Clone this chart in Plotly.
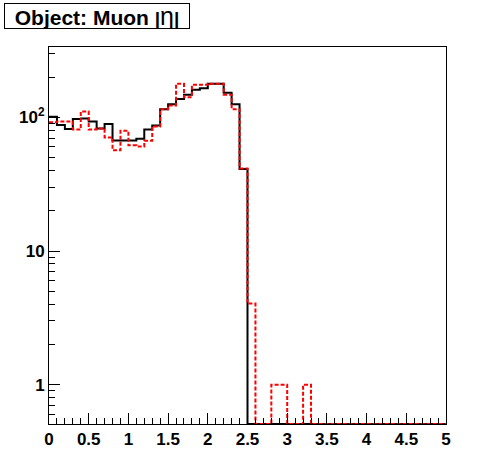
import numpy as np
import plotly.graph_objects as go

# Bin edges: 50 bins of width 0.1 from 0 to 5
bin_lo = [round(0.1 * i, 1) for i in range(50)]
x_end = 5.0

# Black (solid) histogram values
black_vals = [101, 87.5, 81.7, 97, 98, 93, 82.6, 89, 67, 67,
              67, 69, 81, 87, 115, 125, 137, 147.6, 161, 165,
              178, 178, 153, 125, 41] + [0] * 25

# Red (dashed) histogram values
red_vals = [92, 93, 93, 81, 110.7, 81, 82.6, 70.7, 56.6, 79.4,
            61.7, 60.6, 66.8, 85.5, 115, 122.8, 178, 141, 175, 175,
            178, 178, 147.6, 115, 41.5, 4.05, 0, 0, 1, 1,
            0, 0, 1] + [0] * 17

x_ticks = [0, 0.5, 1, 1.5, 2, 2.5, 3, 3.5, 4, 4.5, 5]
x_ticklabels = ["0", "0.5", "1", "1.5", "2", "2.5", "3", "3.5", "4", "4.5", "5"]
y_ticks = [1, 10, 100]
y_ticklabels = ["1", "10", "10<sup>2</sup>"]
y_minor = [0.6, 0.7, 0.8, 0.9, 2, 3, 4, 5, 6, 7, 8, 9,
           20, 30, 40, 50, 60, 70, 80, 90, 200, 300]

title_text = ("<b>Object: Muon</b> <b><span style='font-size:19px'>|</span></b>"
              "<span style='font-size:25px'>η</span>"
              "<b><span style='font-size:19px'>|</span></b>")

ylog_range = [-0.294, 2.526]
floor = 10 ** ylog_range[0]


def step(vals):
    xs = list(bin_lo) + [x_end]
    ys = [max(v, floor) for v in vals] + [max(vals[-1], floor)]
    return xs, ys


fig = go.Figure()
bx, by = step(black_vals)
fig.add_trace(go.Scatter(x=bx, y=by, mode="lines", line_shape="hv",
                         line=dict(color="black", width=2), showlegend=False,
                         hoverinfo="skip"))
rx, ry = step(red_vals)
fig.add_trace(go.Scatter(x=rx, y=ry, mode="lines", line_shape="hv",
                         line=dict(color="#ff0000", width=2, dash="4px,2px"),
                         showlegend=False, hoverinfo="skip"))

tfont = dict(family="Liberation Sans, Arial, sans-serif", size=17,
             color="black", weight="bold")

fig.update_layout(
    width=496, height=472,
    margin=dict(l=49, r=50, t=47, b=48, autoexpand=False),
    paper_bgcolor="white", plot_bgcolor="white",
    font=dict(family="Liberation Sans, Arial, sans-serif", color="black"),
    xaxis=dict(range=[0, 5], showgrid=False, zeroline=False, automargin=False,
               showline=True, linecolor="black", linewidth=1, mirror=True,
               ticks="inside", ticklen=11, tickwidth=1, tickcolor="black",
               tickmode="array", tickvals=x_ticks, ticktext=x_ticklabels,
               tickfont=tfont,
               minor=dict(ticks="inside", ticklen=6, dtick=0.1, tick0=0,
                          tickcolor="black", showgrid=False)),
    yaxis=dict(type="log", range=ylog_range, showgrid=False, zeroline=False,
               automargin=False,
               showline=True, linecolor="black", linewidth=1, mirror=True,
               ticks="inside", ticklen=11, tickwidth=1, tickcolor="black",
               tickmode="array", tickvals=y_ticks, ticktext=y_ticklabels,
               tickfont=tfont,
               minor=dict(ticks="inside", ticklen=6, tickmode="array",
                          tickvals=y_minor, tickcolor="black", showgrid=False)),
    annotations=[dict(
        text=title_text, xref="paper", yref="paper",
        x=(97 - 49.3) / 397, y=(424 - 15.5) / 377,
        xanchor="center", yanchor="middle", showarrow=False,
        width=184, height=24, borderpad=0,
        bordercolor="black", borderwidth=1, bgcolor="white",
        font=dict(family="Liberation Sans, Arial", size=21, color="black"),
    )],
)

fig.write_html("out.html", config={"displayModeBar": False},
               post_script="document.body.style.margin='0';document.body.style.padding='0';")
